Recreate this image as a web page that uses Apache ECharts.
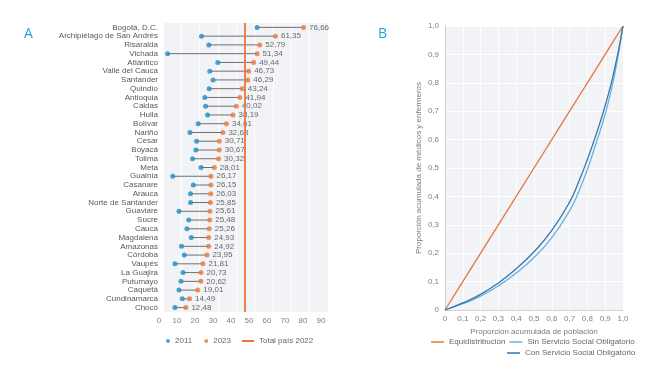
<!DOCTYPE html>
<html><head><meta charset="utf-8">
<script src="https://cdn.jsdelivr.net/npm/echarts@6/dist/echarts.min.js"></script>
<style>html,body{margin:0;padding:0;background:#fff}#c{width:660px;height:370px}</style>
</head><body><div id="c"></div>
<script>
const departments = ["Bogotá, D.C.","Archipiélago de San Andrés","Risaralda","Vichada","Atlántico","Valle del Cauca","Santander","Quindío","Antioquia","Caldas","Huila","Bolívar","Nariño","Cesar","Boyacá","Tolima","Meta","Guainía","Casanare","Arauca","Norte de Santander","Guaviare","Sucre","Cauca","Magdalena","Amazonas","Córdoba","Vaupés","La Guajira","Putumayo","Caquetá","Cundinamarca","Chocó"];
const values2011 = [51.3,21.0,25.0,2.5,29.9,25.5,27.3,25.2,22.8,23.2,24.3,19.2,14.7,18.3,17.9,16.1,20.7,5.3,16.5,15.0,15.0,8.7,14.0,13.0,15.4,10.1,11.6,6.5,10.9,9.8,8.7,10.5,6.5];
const values2023 = [76.66,61.35,52.79,51.34,49.44,46.73,46.29,43.24,41.94,40.02,38.19,34.61,32.68,30.71,30.67,30.32,28.01,26.17,26.15,26.03,25.85,25.61,25.48,25.26,24.93,24.92,23.95,21.81,20.73,20.62,19.01,14.49,12.48];
const totalPais2022 = 44.6;
const xTicksA = [0,10,20,30,40,50,60,70,80,90];

const popShare = [0,0.1,0.2,0.3,0.4,0.5,0.6,0.7,0.75,0.8,0.85,0.9,0.95,1.0];
const equi = [0,0.1,0.2,0.3,0.4,0.5,0.6,0.7,0.75,0.8,0.85,0.9,0.95,1.0];
const sinSSO = [0,0.022,0.049,0.085,0.13,0.185,0.255,0.35,0.415,0.495,0.59,0.69,0.82,1.0];
const conSSO = [0,0.025,0.055,0.095,0.145,0.205,0.28,0.38,0.45,0.53,0.62,0.72,0.84,1.0];

const ORANGE = '#e8773c', BLUE = '#1f8cc4', FONT = '"Liberation Sans", Arial, sans-serif';
const FS = 8;
const fmt = v => v === 0 ? '0' : v.toFixed(1).replace('.', ',');
const chart = echarts.init(document.getElementById('c'));
chart.setOption({
  animation: false,
  textStyle: {fontFamily: FONT},
  graphic: [
    {type:'text', left:24, top:27, style:{text:'A', fill:'#2a9fd6', font:'14px "Open Sans", sans-serif'}},
    {type:'text', left:378, top:27, style:{text:'B', fill:'#2a9fd6', font:'14px "Open Sans", sans-serif'}}
  ],
  grid: [
    {left:163, right:332, top:23, bottom:58, show:true, backgroundColor:'#f1f3f6', borderWidth:0},
    {left:159, right:339, top:23, bottom:58},
    {left:445, right:37, top:26, bottom:60, show:true, backgroundColor:'#f1f3f6', borderWidth:0}
  ],
  xAxis: [
    {gridIndex:0, type:'value', min:0, max:90, interval:10, axisLabel:{show:false}, axisLine:{show:false}, axisTick:{show:false}, splitLine:{lineStyle:{color:'#ffffff'}}},
    {gridIndex:1, type:'value', min:0, max:90, interval:10, axisLine:{show:false}, axisTick:{show:false}, splitLine:{show:false},
     axisLabel:{color:'#808080', fontSize:FS, margin:5, formatter: v => xTicksA.includes(v) ? String(v) : ''}},
    {gridIndex:2, type:'value', min:0, max:1, interval:0.1, axisLine:{show:true, lineStyle:{color:'#d0d0d0'}}, axisTick:{show:false},
     splitLine:{lineStyle:{color:'#ffffff'}}, axisLabel:{color:'#808080', fontSize:FS, margin:5, formatter: fmt},
     name:'Proporción acumulada de población', nameLocation:'middle', nameGap:17, nameTextStyle:{color:'#7a7a7a', fontSize:FS}}
  ],
  yAxis: [
    {gridIndex:0, type:'category', data:departments, inverse:true, axisLine:{show:false}, axisTick:{show:false},
     axisLabel:{color:'#595959', fontSize:FS, margin:5, interval:0}},
    {gridIndex:1, type:'value', show:false},
    {gridIndex:2, type:'value', min:0, max:1, interval:0.1, axisLine:{show:true, lineStyle:{color:'#d0d0d0'}}, axisTick:{show:false},
     splitLine:{lineStyle:{color:'#ffffff'}}, axisLabel:{color:'#808080', fontSize:FS, margin:6, formatter: fmt},
     name:'Proporción acumulada de médicos y enfermeros', nameLocation:'middle', nameGap:22, nameTextStyle:{color:'#7a7a7a', fontSize:FS}}
  ],
  legend: [
    {data:[{name:'2011'},{name:'2023'}], icon:'circle', itemWidth:4, itemHeight:4, itemGap:12, left:166, top:337, padding:0,
     textStyle:{color:'#666', fontSize:FS}},
    {data:['Total país 2022'], icon:'rect', itemWidth:12, itemHeight:2, left:242, top:337, padding:0, textStyle:{color:'#666', fontSize:FS}},
    {data:['Equidistribución','Sin Servicio Social Obligatorio'], icon:'rect', itemWidth:13, itemHeight:1.5, itemGap:4, left:431, top:338, padding:0, width:240,
     textStyle:{color:'#666', fontSize:FS}},
    {data:['Con Servicio Social Obligatorio'], icon:'rect', itemWidth:13, itemHeight:1.5, left:507, top:349, padding:0, width:200, textStyle:{color:'#666', fontSize:FS}}
  ],
  series: [
    {type:'custom', xAxisIndex:0, yAxisIndex:0, silent:true, z:1,
     data: departments.map((d,i) => [values2011[i], values2023[i], i]),
     encode:{x:[0,1], y:2},
     renderItem: (params, api) => {
       const p1 = api.coord([api.value(0), api.value(2)]);
       const p2 = api.coord([api.value(1), api.value(2)]);
       return {type:'line', shape:{x1:p1[0], y1:p1[1], x2:p2[0], y2:p2[1]}, style:{stroke:'#707070', lineWidth:1}};
     }},
    {name:'2011', type:'scatter', xAxisIndex:0, yAxisIndex:0, symbolSize:5, z:3, itemStyle:{color:BLUE},
     data: departments.map((d,i) => [values2011[i], d])},
    {name:'2023', type:'scatter', xAxisIndex:0, yAxisIndex:0, symbolSize:5, z:3, itemStyle:{color:ORANGE},
     data: departments.map((d,i) => [values2023[i], d]),
     label:{show:true, position:'right', distance:3, color:'#444', fontSize:FS,
       formatter: p => p.value[0].toFixed(2).replace('.', ',')}},
    {name:'Total país 2022', type:'line', xAxisIndex:0, yAxisIndex:0, data:[], itemStyle:{color:ORANGE}, lineStyle:{color:ORANGE},
     markLine:{silent:true, symbol:'none', label:{show:false}, lineStyle:{color:ORANGE, width:1.8, type:'solid'}, data:[{xAxis: totalPais2022}]}},
    {name:'Equidistribución', type:'line', xAxisIndex:2, yAxisIndex:2, showSymbol:false, itemStyle:{color:ORANGE},
     lineStyle:{color:ORANGE, width:1.3}, data: popShare.map((x,i) => [x, equi[i]])},
    {name:'Sin Servicio Social Obligatorio', type:'line', xAxisIndex:2, yAxisIndex:2, showSymbol:false, smooth:true, itemStyle:{color:'#63b3df'},
     lineStyle:{color:'#63b3df', width:1.3}, data: popShare.map((x,i) => [x, sinSSO[i]])},
    {name:'Con Servicio Social Obligatorio', type:'line', xAxisIndex:2, yAxisIndex:2, showSymbol:false, smooth:true, itemStyle:{color:'#3b74a6'},
     lineStyle:{color:'#3b74a6', width:1.3}, data: popShare.map((x,i) => [x, conSSO[i]])}
  ]
});
</script></body></html>
